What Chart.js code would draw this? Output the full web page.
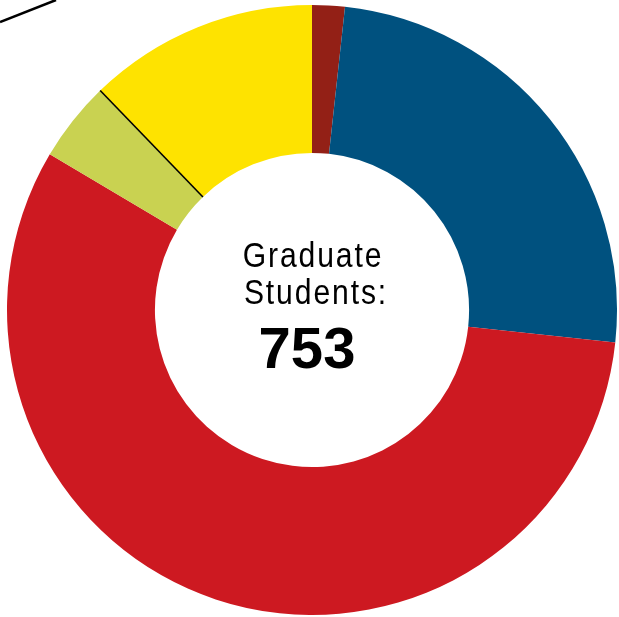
<!DOCTYPE html>
<html>
<head>
<meta charset="utf-8">
<title>Graduate Students</title>
<script src="https://cdn.jsdelivr.net/npm/chart.js@4.4.1/dist/chart.umd.min.js"></script>
<style>
  html, body { margin: 0; padding: 0; background: #fff; }
  #wrap { width: 619px; height: 617px; }
</style>
</head>
<body>
<div id="wrap"><canvas id="grad" width="619" height="617"></canvas></div>
<script>
// DATA - graduate students by group, clockwise from 12 o'clock
const labels = ['Group 1', 'Group 2', 'Group 3', 'Group 4', 'Group 5'];
const students = [13, 188, 428, 32, 92];
const colors = ['#932016', '#00517F', '#CD1921', '#C9D251', '#FEE300'];
const centerLines = ['Graduate', 'Students:'];
const totalLabel = String(students.reduce((a, b) => a + b, 0));

// condensed text: squeeze the regular face horizontally
function narrowText(ctx, text, x, y, squeeze) {
  ctx.save();
  ctx.translate(x, y);
  ctx.scale(squeeze, 1);
  ctx.fillText(text, 0, 0);
  ctx.restore();
}

// CENTER TEXT + DIVIDER LINES
const centerPlugin = {
  id: 'centerText',
  afterDraw(chart) {
    const ctx = chart.ctx;
    const arcs = chart.getDatasetMeta(0).data;
    const cx = arcs[0].x, cy = arcs[0].y;

    // black divider on the start of the last slice
    const last = arcs[arcs.length - 1];
    const a = last.startAngle;
    ctx.save();
    ctx.strokeStyle = '#000';
    ctx.lineWidth = 1.6;
    ctx.beginPath();
    ctx.moveTo(cx + Math.cos(a) * last.innerRadius, cy + Math.sin(a) * last.innerRadius);
    ctx.lineTo(cx + Math.cos(a) * last.outerRadius, cy + Math.sin(a) * last.outerRadius);
    ctx.stroke();

    // leader line at top-left corner
    ctx.lineWidth = 2.5;
    ctx.beginPath();
    ctx.moveTo(0, 22);
    ctx.lineTo(56, 0);
    ctx.stroke();

    // text
    ctx.fillStyle = '#000';
    ctx.textAlign = 'center';
    ctx.textBaseline = 'alphabetic';
    ctx.font = '35px "Liberation Sans", Arial, sans-serif';
    ctx.letterSpacing = '2.2px';
    narrowText(ctx, centerLines[0], cx + 1, cy - 43, 0.86);
    narrowText(ctx, centerLines[1], cx + 4, cy - 6, 0.86);
    ctx.letterSpacing = '0px';
    ctx.font = 'bold 58px "Liberation Sans", Arial, sans-serif';
    ctx.fillText(totalLabel, cx - 5, cy + 58);
    ctx.restore();
  }
};

new Chart(document.getElementById('grad'), {
  type: 'doughnut',
  data: {
    labels,
    datasets: [{
      data: students,
      backgroundColor: colors,
      borderWidth: 0
    }]
  },
  options: {
    responsive: false,
    animation: false,
    cutout: '51.5%',
    layout: { padding: { left: 7, right: 2, top: 5, bottom: 2 } },
    plugins: {
      legend: { display: false },
      tooltip: { enabled: false }
    }
  },
  plugins: [centerPlugin]
});
</script>
</body>
</html>
